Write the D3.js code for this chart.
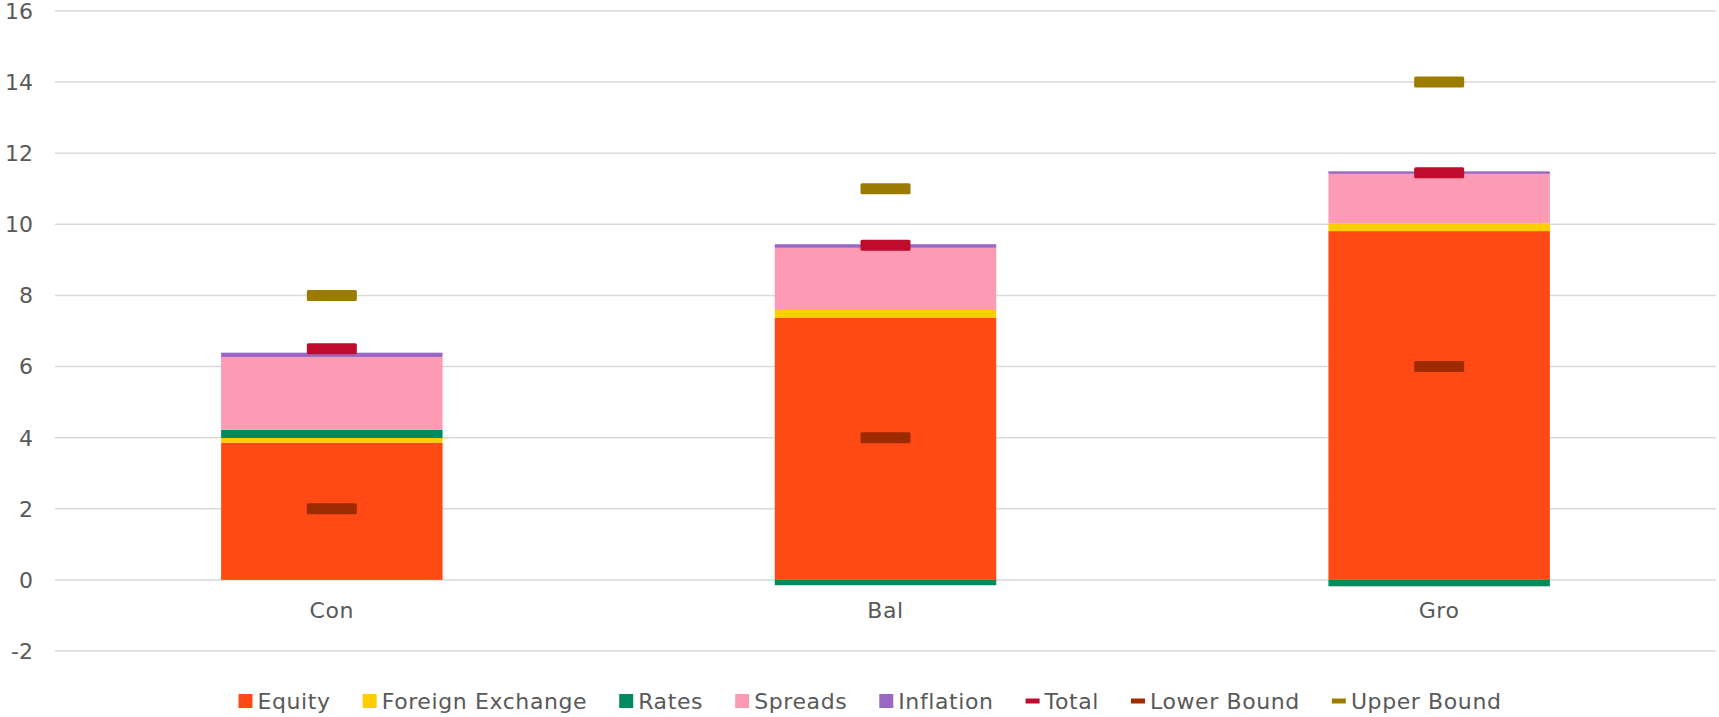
<!DOCTYPE html>
<html>
<head>
<meta charset="utf-8">
<script src="https://cdn.jsdelivr.net/npm/d3@7"></script>
<style>
  html, body { margin: 0; padding: 0; background: #fff; }
  svg { display: block; font-family: 'DejaVu Sans', sans-serif; }
  .tick-label { fill: #595959; font-size: 22px; }
  .cat-label, .legend-label { fill: #595959; font-size: 22px; letter-spacing: 0.6px; }
</style>
</head>
<body>
<svg id="chart" width="1719" height="717"></svg>
<script>
const categories = ['Con', 'Bal', 'Gro'];
const equity = [3.86, 7.37, 9.81];
const foreignExchange = [0.13, 0.22, 0.22];
const rates = [0.23, -0.15, -0.18];
const spreads = [2.05, 1.75, 1.39];
const inflation = [0.12, 0.1, 0.07];
const total = [6.5, 9.41, 11.45];
const lowerBound = [2, 4, 6];
const upperBound = [8, 11, 14];
const yTicks = [-2, 0, 2, 4, 6, 8, 10, 12, 14, 16];

const seriesNames = ['Equity', 'Foreign Exchange', 'Rates', 'Spreads', 'Inflation'];
const seriesColors = ['#FF4A15', '#FFCE00', '#008A5E', '#FC9BB3', '#9A68C4'];
const markerNames = ['Total', 'Lower Bound', 'Upper Bound'];
const markerColors = ['#C00C2C', '#9E2A00', '#9C7C00'];

const width = 1719;
const height = 717;
const margin = { left: 55, right: 3, top: 11, bottom: 66 };

const $svg = d3.select('#chart');

const x = d3
  .scaleBand()
  .domain(categories)
  .range([margin.left, width - margin.right])
  .paddingInner(0.6)
  .paddingOuter(0.3);

const y = d3
  .scaleLinear()
  .domain([-2, 16])
  .range([height - margin.bottom, margin.top]);

// gridlines + tick labels
const yAxis = $svg.append('g').attr('class', 'y-axis');
yAxis
  .selectAll('line')
  .data(yTicks)
  .join('line')
  .attr('x1', margin.left)
  .attr('x2', width - margin.right)
  .attr('y1', d => y(d))
  .attr('y2', d => y(d))
  .attr('stroke', '#D9D9D9')
  .attr('stroke-width', 1.5);

yAxis
  .selectAll('text')
  .data(yTicks)
  .join('text')
  .attr('class', 'tick-label')
  .attr('x', 33)
  .attr('y', d => y(d))
  .attr('dy', '0.36em')
  .attr('text-anchor', 'end')
  .text(d => d);

// stacked bars
const rows = categories.map((c, i) => ({
  category: c,
  Equity: equity[i],
  'Foreign Exchange': foreignExchange[i],
  Rates: rates[i],
  Spreads: spreads[i],
  Inflation: inflation[i],
}));

const stack = d3
  .stack()
  .keys(seriesNames)
  .offset(d3.stackOffsetDiverging);

const layers = stack(rows);

$svg
  .append('g')
  .attr('class', 'bars')
  .selectAll('g')
  .data(layers)
  .join('g')
  .attr('fill', (d, i) => seriesColors[i])
  .selectAll('rect')
  .data(d => d)
  .join('rect')
  .attr('x', d => x(d.data.category))
  .attr('width', x.bandwidth())
  .attr('y', d => y(Math.max(d[0], d[1])))
  .attr('height', d => Math.abs(y(d[0]) - y(d[1])));

// markers (total, bounds)
const markerW = 50;
const markerH = 11;
const markerSeries = [total, lowerBound, upperBound];

$svg
  .append('g')
  .attr('class', 'markers')
  .selectAll('g')
  .data(markerSeries)
  .join('g')
  .attr('fill', (d, i) => markerColors[i])
  .selectAll('rect')
  .data(d => d)
  .join('rect')
  .attr('x', (d, i) => x(categories[i]) + x.bandwidth() / 2 - markerW / 2)
  .attr('y', d => y(d) - markerH / 2)
  .attr('width', markerW)
  .attr('height', markerH)
  .attr('rx', 1.5);

// category labels
$svg
  .append('g')
  .selectAll('text')
  .data(categories)
  .join('text')
  .attr('class', 'cat-label')
  .attr('x', d => x(d) + x.bandwidth() / 2)
  .attr('y', 610)
  .attr('dy', '0.36em')
  .attr('text-anchor', 'middle')
  .text(d => d);

// legend
const legendItems = seriesNames
  .map((n, i) => ({ name: n, color: seriesColors[i], type: 'box' }))
  .concat(markerNames.map((n, i) => ({ name: n, color: markerColors[i], type: 'line' })));

const legendY = 701;
const $legend = $svg.append('g').attr('class', 'legend');
const items = $legend
  .selectAll('g')
  .data(legendItems)
  .join('g');

items
  .append('rect')
  .attr('x', 0)
  .attr('y', d => (d.type === 'box' ? -7 : -2.5))
  .attr('width', 14)
  .attr('height', d => (d.type === 'box' ? 14 : 5))
  .attr('fill', d => d.color);

items
  .append('text')
  .attr('class', 'legend-label')
  .attr('x', 19)
  .attr('dy', '0.36em')
  .text(d => d.name);

let cursor = 0;
items.each(function () {
  const w = this.getBBox().width;
  d3.select(this).attr('data-x', cursor);
  cursor += w + 32;
});
const legendWidth = cursor - 32;
const legendStart = 870 - legendWidth / 2;
items.attr('transform', function () {
  return `translate(${legendStart + +this.getAttribute('data-x')}, ${legendY})`;
});
</script>
</body>
</html>
